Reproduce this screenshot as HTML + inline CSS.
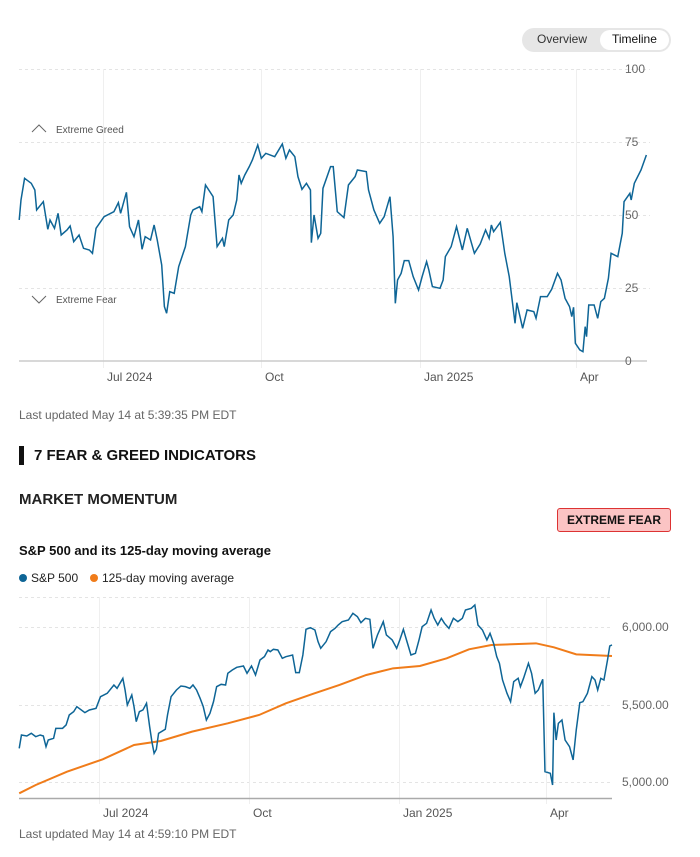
<!DOCTYPE html>
<html><head><meta charset="utf-8"><style>
body{margin:0;width:700px;height:857px;background:#fff;font-family:"Liberation Sans",sans-serif;position:relative;overflow:hidden;color:#111}
.a{position:absolute;white-space:nowrap}
</style></head><body>
<div class="a" style="left:522px;top:28px;width:149px;height:24px;border-radius:12px;background:#e6e6e6"></div>
<div class="a" style="left:600px;top:30px;width:69px;height:20px;border-radius:10px;background:#fff"></div>
<div class="a" style="left:537px;top:32px;font-size:12px;color:#333">Overview</div>
<div class="a" style="left:612px;top:32px;font-size:12px;color:#111">Timeline</div>

<svg class="a" style="left:0;top:0" width="700" height="857">
<g stroke="#e4e4e4" stroke-dasharray="3,3" stroke-width="1">
<line x1="19" y1="69.5" x2="650" y2="69.5"/><line x1="19" y1="142.5" x2="650" y2="142.5"/><line x1="19" y1="215.5" x2="650" y2="215.5"/><line x1="19" y1="288.5" x2="650" y2="288.5"/>
<line x1="19" y1="597.5" x2="612" y2="597.5"/><line x1="19" y1="627.5" x2="612" y2="627.5"/><line x1="19" y1="705.5" x2="612" y2="705.5"/><line x1="19" y1="782.5" x2="612" y2="782.5"/>
</g>
<g stroke="#efefef"><line x1="103.5" y1="69" x2="103.5" y2="368"/><line x1="261.5" y1="69" x2="261.5" y2="368"/><line x1="420.5" y1="69" x2="420.5" y2="368"/><line x1="576.5" y1="69" x2="576.5" y2="368"/>
<line x1="99.5" y1="597" x2="99.5" y2="804"/><line x1="249.5" y1="597" x2="249.5" y2="804"/><line x1="399.5" y1="597" x2="399.5" y2="804"/><line x1="546.5" y1="597" x2="546.5" y2="804"/></g>
<line x1="19" y1="361" x2="647" y2="361" stroke="#ccc" stroke-width="1.5"/>
<line x1="19" y1="798.5" x2="612" y2="798.5" stroke="#aaa" stroke-width="1.5"/>
<g fill="none" stroke="#666" stroke-width="1"><polyline points="32,132 39,125 46,132"/><polyline points="32,296 39,303 46,296"/></g>
<g transform="translate(0,20) scale(0.4467,0.3333)">
<polyline fill="none" stroke="#0e6596" stroke-width="1.5" vector-effect="non-scaling-stroke" points="43,600 47,540 55,475 70,490 78,510 82,570 97,545 107,628 112,600 122,625 130,580 137,645 150,630 157,618 165,665 177,645 187,685 200,690 207,700 215,625 233,590 255,575 265,548 270,580 283,517 290,620 300,650 310,600 318,688 325,650 337,660 345,615 352,660 362,735 368,860 373,880 380,815 390,820 400,740 415,680 427,585 432,570 447,560 452,575 460,495 477,530 486,680 498,655 502,680 512,600 522,585 530,540 535,465 540,490 548,465 558,440 565,420 577,375 585,415 595,400 615,410 632,372 640,415 648,390 660,410 667,470 676,508 686,490 695,510 697,668 703,585 712,655 718,640 723,505 740,440 746,440 755,575 770,593 780,495 795,470 800,450 820,455 825,510 837,570 850,610 860,590 873,530 880,650 885,850 890,780 898,760 905,722 915,722 925,770 937,810 945,770 955,725 960,750 968,800 985,805 992,780 997,710 1010,680 1022,620 1035,690 1046,625 1062,700 1075,672 1087,630 1095,655 1100,615 1105,635 1120,607 1130,700 1140,770 1153,910 1157,848 1170,925 1180,870 1195,875 1200,895 1210,830 1225,830 1235,808 1248,760 1256,780 1265,835 1275,860 1280,890 1284,862 1288,970 1298,990 1305,995 1310,920 1313,950 1318,855 1330,855 1338,895 1345,845 1353,835 1362,775 1368,700 1383,710 1393,640 1397,545 1410,520 1413,540 1420,490 1435,450 1447,405"/>
</g>
<g transform="translate(0,560) scale(0.4467,0.3333)">
<polyline fill="none" stroke="#f07c1a" stroke-width="2" vector-effect="non-scaling-stroke" points="43,700 80,675 150,635 230,598 300,555 360,543 430,515 510,490 580,465 640,430 700,402 760,375 820,345 880,325 940,318 1000,295 1050,268 1100,255 1200,250 1240,262 1290,283 1370,288"/>
<polyline fill="none" stroke="#0e6596" stroke-width="1.5" vector-effect="non-scaling-stroke" points="43,565 48,525 60,528 70,520 80,530 90,525 97,528 103,560 108,540 120,535 125,505 140,505 148,495 155,465 165,455 172,440 190,458 200,450 215,445 225,410 240,400 255,375 262,385 275,355 280,390 285,435 295,405 300,440 305,485 312,455 320,450 328,430 335,500 340,545 345,580 350,568 355,520 370,508 375,465 383,410 395,390 405,378 415,380 425,385 432,375 440,390 448,415 455,440 462,480 470,460 478,425 485,380 495,373 505,375 510,340 520,330 530,322 545,318 553,340 563,318 572,345 582,300 592,290 600,270 605,275 612,268 622,270 632,295 640,290 655,285 662,338 670,338 678,285 685,208 695,203 705,210 712,245 718,265 730,245 740,215 750,205 757,195 766,185 780,180 790,160 800,170 808,188 818,175 828,178 835,265 845,225 858,185 865,225 878,240 888,265 895,240 903,208 910,240 920,285 930,280 938,240 945,200 955,190 965,150 972,175 980,195 988,175 995,190 1005,205 1015,175 1025,185 1035,175 1042,150 1055,145 1063,135 1070,195 1080,210 1090,240 1097,220 1105,250 1112,290 1118,310 1125,360 1135,400 1143,425 1150,365 1160,355 1165,380 1172,355 1183,310 1190,340 1198,400 1205,390 1215,358 1220,635 1232,640 1237,675 1240,458 1245,540 1250,490 1258,480 1265,540 1275,560 1283,600 1290,510 1298,428 1305,425 1315,400 1325,350 1332,360 1338,390 1345,355 1352,360 1360,300 1365,258 1370,255"/>
</g>
<circle cx="23" cy="578" r="4" fill="#0e6596"/><circle cx="94" cy="578" r="4" fill="#f07c1a"/>
</svg>

<div class="a" style="left:625px;top:62px;font-size:12px;color:#666">100</div>
<div class="a" style="left:625px;top:135px;font-size:12px;color:#666">75</div>
<div class="a" style="left:625px;top:208px;font-size:12px;color:#666">50</div>
<div class="a" style="left:625px;top:281px;font-size:12px;color:#666">25</div>
<div class="a" style="left:625px;top:354px;font-size:12px;color:#666">0</div>
<div class="a" style="left:56px;top:125px;font-size:10px;color:#555">Extreme Greed</div>
<div class="a" style="left:56px;top:295px;font-size:10px;color:#555">Extreme Fear</div>
<div class="a" style="left:107px;top:370px;font-size:12px;color:#555">Jul 2024</div>
<div class="a" style="left:265px;top:370px;font-size:12px;color:#555">Oct</div>
<div class="a" style="left:424px;top:370px;font-size:12px;color:#555">Jan 2025</div>
<div class="a" style="left:580px;top:370px;font-size:12px;color:#555">Apr</div>
<div class="a" style="left:19px;top:408px;font-size:12px;color:#666">Last updated May 14 at 5:39:35 PM EDT</div>
<div class="a" style="left:19px;top:446px;width:5px;height:19px;background:#111"></div>
<div class="a" style="left:34px;top:447px;font-size:15px;font-weight:bold">7 FEAR &amp; GREED INDICATORS</div>
<div class="a" style="left:19px;top:491px;font-size:15px;font-weight:bold;color:#222">MARKET MOMENTUM</div>
<div class="a" style="left:557px;top:508px;width:112px;height:22px;background:#fbc4c4;border:1px solid #d33;border-radius:3px;font-size:12px;font-weight:bold;line-height:22px;text-align:center">EXTREME FEAR</div>
<div class="a" style="left:19px;top:543px;font-size:13px;font-weight:bold">S&amp;P 500 and its 125-day moving average</div>
<div class="a" style="left:31px;top:571px;font-size:12px;color:#222">S&amp;P 500</div>
<div class="a" style="left:102px;top:571px;font-size:12px;color:#222">125-day moving average</div>
<div class="a" style="left:622px;top:620px;font-size:12px;color:#666">6,000.00</div>
<div class="a" style="left:622px;top:698px;font-size:12px;color:#666">5,500.00</div>
<div class="a" style="left:622px;top:775px;font-size:12px;color:#666">5,000.00</div>
<div class="a" style="left:103px;top:806px;font-size:12px;color:#555">Jul 2024</div>
<div class="a" style="left:253px;top:806px;font-size:12px;color:#555">Oct</div>
<div class="a" style="left:403px;top:806px;font-size:12px;color:#555">Jan 2025</div>
<div class="a" style="left:550px;top:806px;font-size:12px;color:#555">Apr</div>
<div class="a" style="left:19px;top:827px;font-size:12px;color:#666">Last updated May 14 at 4:59:10 PM EDT</div>
</body></html>
